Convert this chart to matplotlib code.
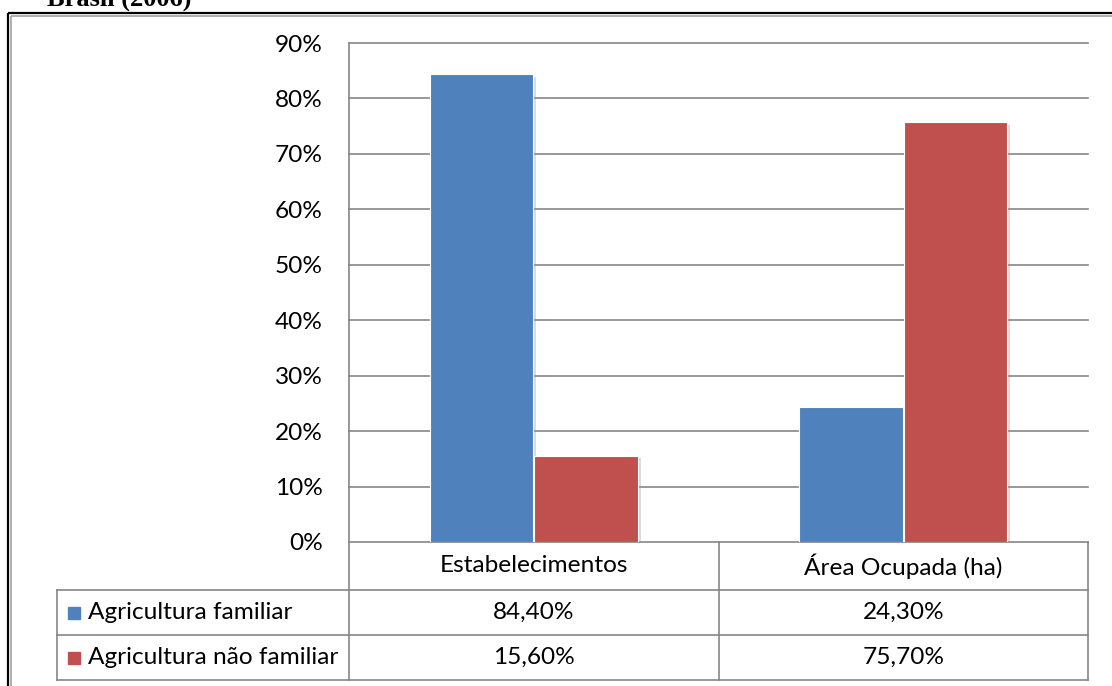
import matplotlib.pyplot as plt
import numpy as np
from matplotlib import patheffects
from matplotlib.patches import Rectangle

categories = ["Estabelecimentos", "Área Ocupada (ha)"]
series_names = ["Agricultura familiar", "Agricultura não familiar"]
familiar = [0.844, 0.243]
nao_familiar = [0.156, 0.757]
y_ticks = [0.0, 0.1, 0.2, 0.3, 0.4, 0.5, 0.6, 0.7, 0.8, 0.9]
title = "Brasil (2006)"

BLUE = "#4F81BD"
RED = "#C0504D"
GRID = "#868686"

plt.rcParams["font.family"] = ["Lato", "DejaVu Sans"]

# layout in pixels
W, H = 1112, 686
PLOT_L, PLOT_R, PLOT_T, PLOT_B = 349, 1088, 43, 542
LEG_L = 57
ROWS = [542, 590, 635, 680]
FS = 17.6

fig = plt.figure(figsize=(W / 100, H / 100), dpi=100)

# full-figure overlay for the frame and the data table
over = fig.add_axes([0, 0, 1, 1])
over.set_xlim(0, W)
over.set_ylim(H, 0)
over.axis("off")

# page frame (double line on the left and top)
over.plot([7.5, 7.5], [13, H], color="black", lw=1.6, solid_capstyle="butt")
over.plot([7.5, W], [13, 13], color="black", lw=1.6, solid_capstyle="butt")
over.plot([11, 11], [15.5, H], color="#9a9a9a", lw=1.1, solid_capstyle="butt")
over.plot([11, W], [15.5, 15.5], color="#9a9a9a", lw=1.1, solid_capstyle="butt")

over.text(47, 6, title, family="Liberation Serif", weight="bold",
          fontsize=19, va="baseline", ha="left")

# bar chart
ax = fig.add_axes([PLOT_L / W, 1 - PLOT_B / H,
                   (PLOT_R - PLOT_L) / W, (PLOT_B - PLOT_T) / H])
ax.set_facecolor("none")
x = np.arange(len(categories))
width = 0.28
shadow = [patheffects.SimplePatchShadow(offset=(2, -2), shadow_rgbFace="#999999", alpha=0.35),
          patheffects.Normal()]
ax.bar(x - 0.142, familiar, width, color=BLUE, edgecolor="white", lw=0.8,
       path_effects=shadow, zorder=3)
ax.bar(x + 0.142, nao_familiar, width, color=RED, edgecolor="white", lw=0.8,
       path_effects=shadow, zorder=3)
ax.set_xlim(-0.5, len(categories) - 0.5)
ax.set_ylim(0, 0.9)
ax.set_yticks(y_ticks)
ax.set_yticklabels([f"{v:.0%}" for v in y_ticks], fontsize=FS)
ax.set_xticks([])
ax.tick_params(axis="y", length=0, pad=19)
ax.grid(axis="y", color=GRID, lw=1.2, zorder=0)
for g in ax.get_ygridlines():
    g.set_clip_on(False)
for side in ["top", "right", "bottom"]:
    ax.spines[side].set_visible(False)
ax.spines["left"].set_color(GRID)
ax.spines["left"].set_linewidth(1.2)

# data table under the plot
col_w = (PLOT_R - PLOT_L) / len(categories)
col_edges = [PLOT_L + i * col_w for i in range(len(categories) + 1)]
line_kw = dict(color=GRID, lw=1.2, solid_capstyle="projecting")
over.plot([PLOT_L, PLOT_L], [PLOT_B, ROWS[-1]], **line_kw)
for xe in col_edges[1:]:
    over.plot([xe, xe], [PLOT_B, ROWS[-1]], **line_kw)
over.plot([LEG_L, LEG_L], [ROWS[1], ROWS[-1]], **line_kw)
for ye in ROWS[1:]:
    over.plot([LEG_L, PLOT_R], [ye, ye], **line_kw)

for i, cat in enumerate(categories):
    cx = (col_edges[i] + col_edges[i + 1]) / 2
    over.text(cx, (ROWS[0] + ROWS[1]) / 2, cat, ha="center", va="center", fontsize=FS)

for r, (name, vals, color) in enumerate(zip(series_names, [familiar, nao_familiar], [BLUE, RED])):
    cy = (ROWS[r + 1] + ROWS[r + 2]) / 2
    over.add_patch(Rectangle((68, cy - 6), 12, 12, color=color))
    over.text(88, cy, name, ha="left", va="center", fontsize=FS)
    for i, v in enumerate(vals):
        cx = (col_edges[i] + col_edges[i + 1]) / 2
        label = f"{v * 100:.2f}%".replace(".", ",")
        over.text(cx, cy, label, ha="center", va="center", fontsize=FS)

fig.savefig("out.png", dpi=100)
